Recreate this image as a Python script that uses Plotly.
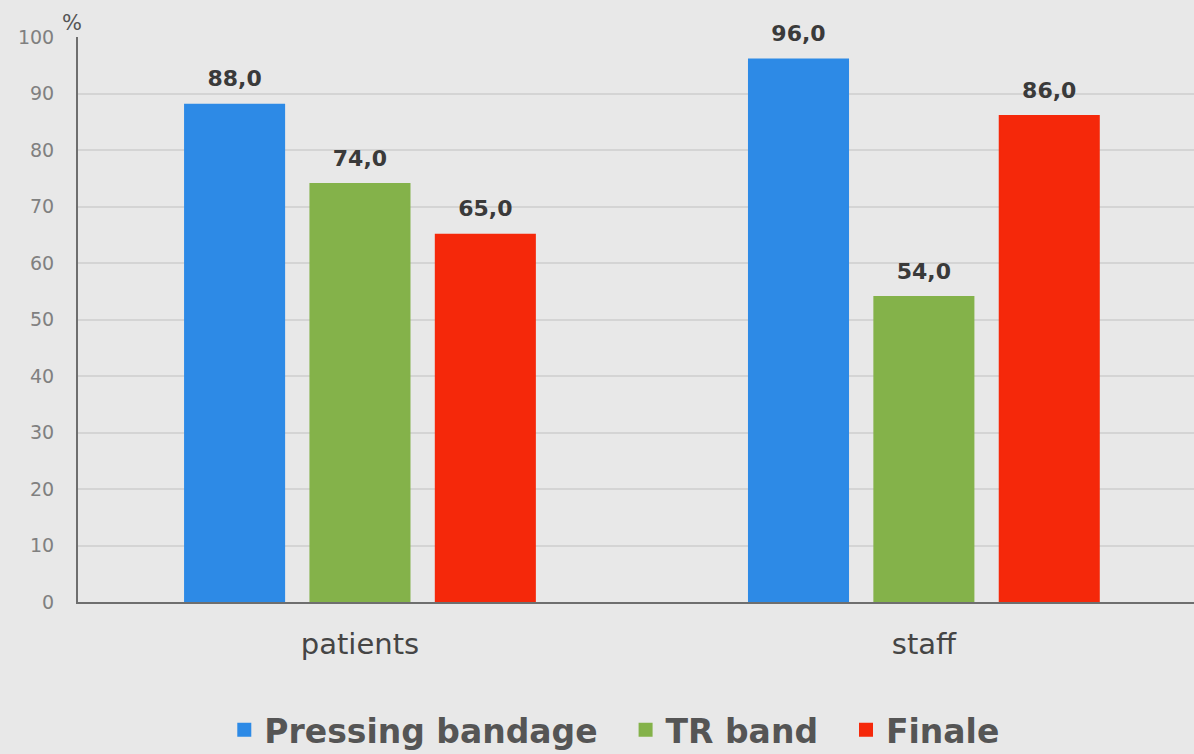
import plotly.graph_objects as go

# Survey groups and the share (%) reporting each outcome
categories = ["patients", "staff"]
pressing_bandage = [88.0, 96.0]
tr_band = [74.0, 54.0]
finale = [65.0, 86.0]

series = [
    ("Pressing bandage", pressing_bandage, "#2d8ae6"),
    ("TR band", tr_band, "#84b24a"),
    ("Finale", finale, "#f5280a"),
]

y_ticks = list(range(0, 101, 10))

FONT = "DejaVu Sans, Verdana, sans-serif"
BAR_GAP = 0.333
NBSP = "\u00a0"


def fmt(v):
    return f"{v:.1f}".replace(".", ",")


fig = go.Figure()
for i, (name, vals, color) in enumerate(series):
    # non-breaking padding widens the space between legend entries
    label = name + (NBSP * 2 if i < len(series) - 1 else "")
    fig.add_trace(go.Bar(
        x=categories,
        y=vals,
        name=label,
        marker=dict(color=color, line=dict(color=color, width=2)),
    ))

# value labels, grouped the same way as the bars so each sits over its bar
for name, vals, color in series:
    fig.add_trace(go.Scatter(
        x=categories,
        y=vals,
        mode="markers+text",
        orientation="v",
        text=[fmt(v) for v in vals],
        textposition="top center",
        marker=dict(size=19, opacity=0),
        textfont=dict(family=FONT, size=22, color="#3a3a3a", weight="bold"),
        showlegend=False,
        hoverinfo="skip",
        cliponaxis=False,
    ))

fig.update_layout(
    width=1194,
    height=754,
    margin=dict(l=78, r=0, t=37, b=152, autoexpand=False),
    paper_bgcolor="#e8e8e8",
    plot_bgcolor="#e8e8e8",
    barmode="group",
    bargap=BAR_GAP,
    bargroupgap=0.21,
    scattermode="group",
    scattergap=BAR_GAP,
    showlegend=True,
    legend=dict(
        orientation="h",
        x=0.481, xanchor="center",
        y=-0.226, yanchor="middle",
        font=dict(family=FONT, size=33, color="#555555", weight="bold"),
        bgcolor="rgba(0,0,0,0)",
        itemwidth=30,
    ),
    xaxis=dict(
        range=[-0.5, 1.479],
        showgrid=False,
        showline=True,
        linecolor="#6e6e6e",
        linewidth=2,
        ticks="",
        ticklabelstandoff=15,
        tickfont=dict(family=FONT, size=29, color="#454545"),
    ),
    yaxis=dict(
        range=[0, 100],
        tickvals=y_ticks,
        showgrid=True,
        gridcolor="#d4d4d4",
        gridwidth=1.5,
        zeroline=False,
        showline=True,
        linecolor="#6e6e6e",
        linewidth=2,
        ticks="",
        ticklabelstandoff=18,
        tickfont=dict(family=FONT, size=19, color="#808080"),
    ),
    annotations=[dict(
        text="%",
        xref="paper", yref="paper",
        x=0, y=1,
        xanchor="center", yanchor="bottom",
        xshift=-6, yshift=0,
        showarrow=False,
        font=dict(family=FONT, size=21, color="#555555"),
    )],
)

fig.write_html("out.html")
